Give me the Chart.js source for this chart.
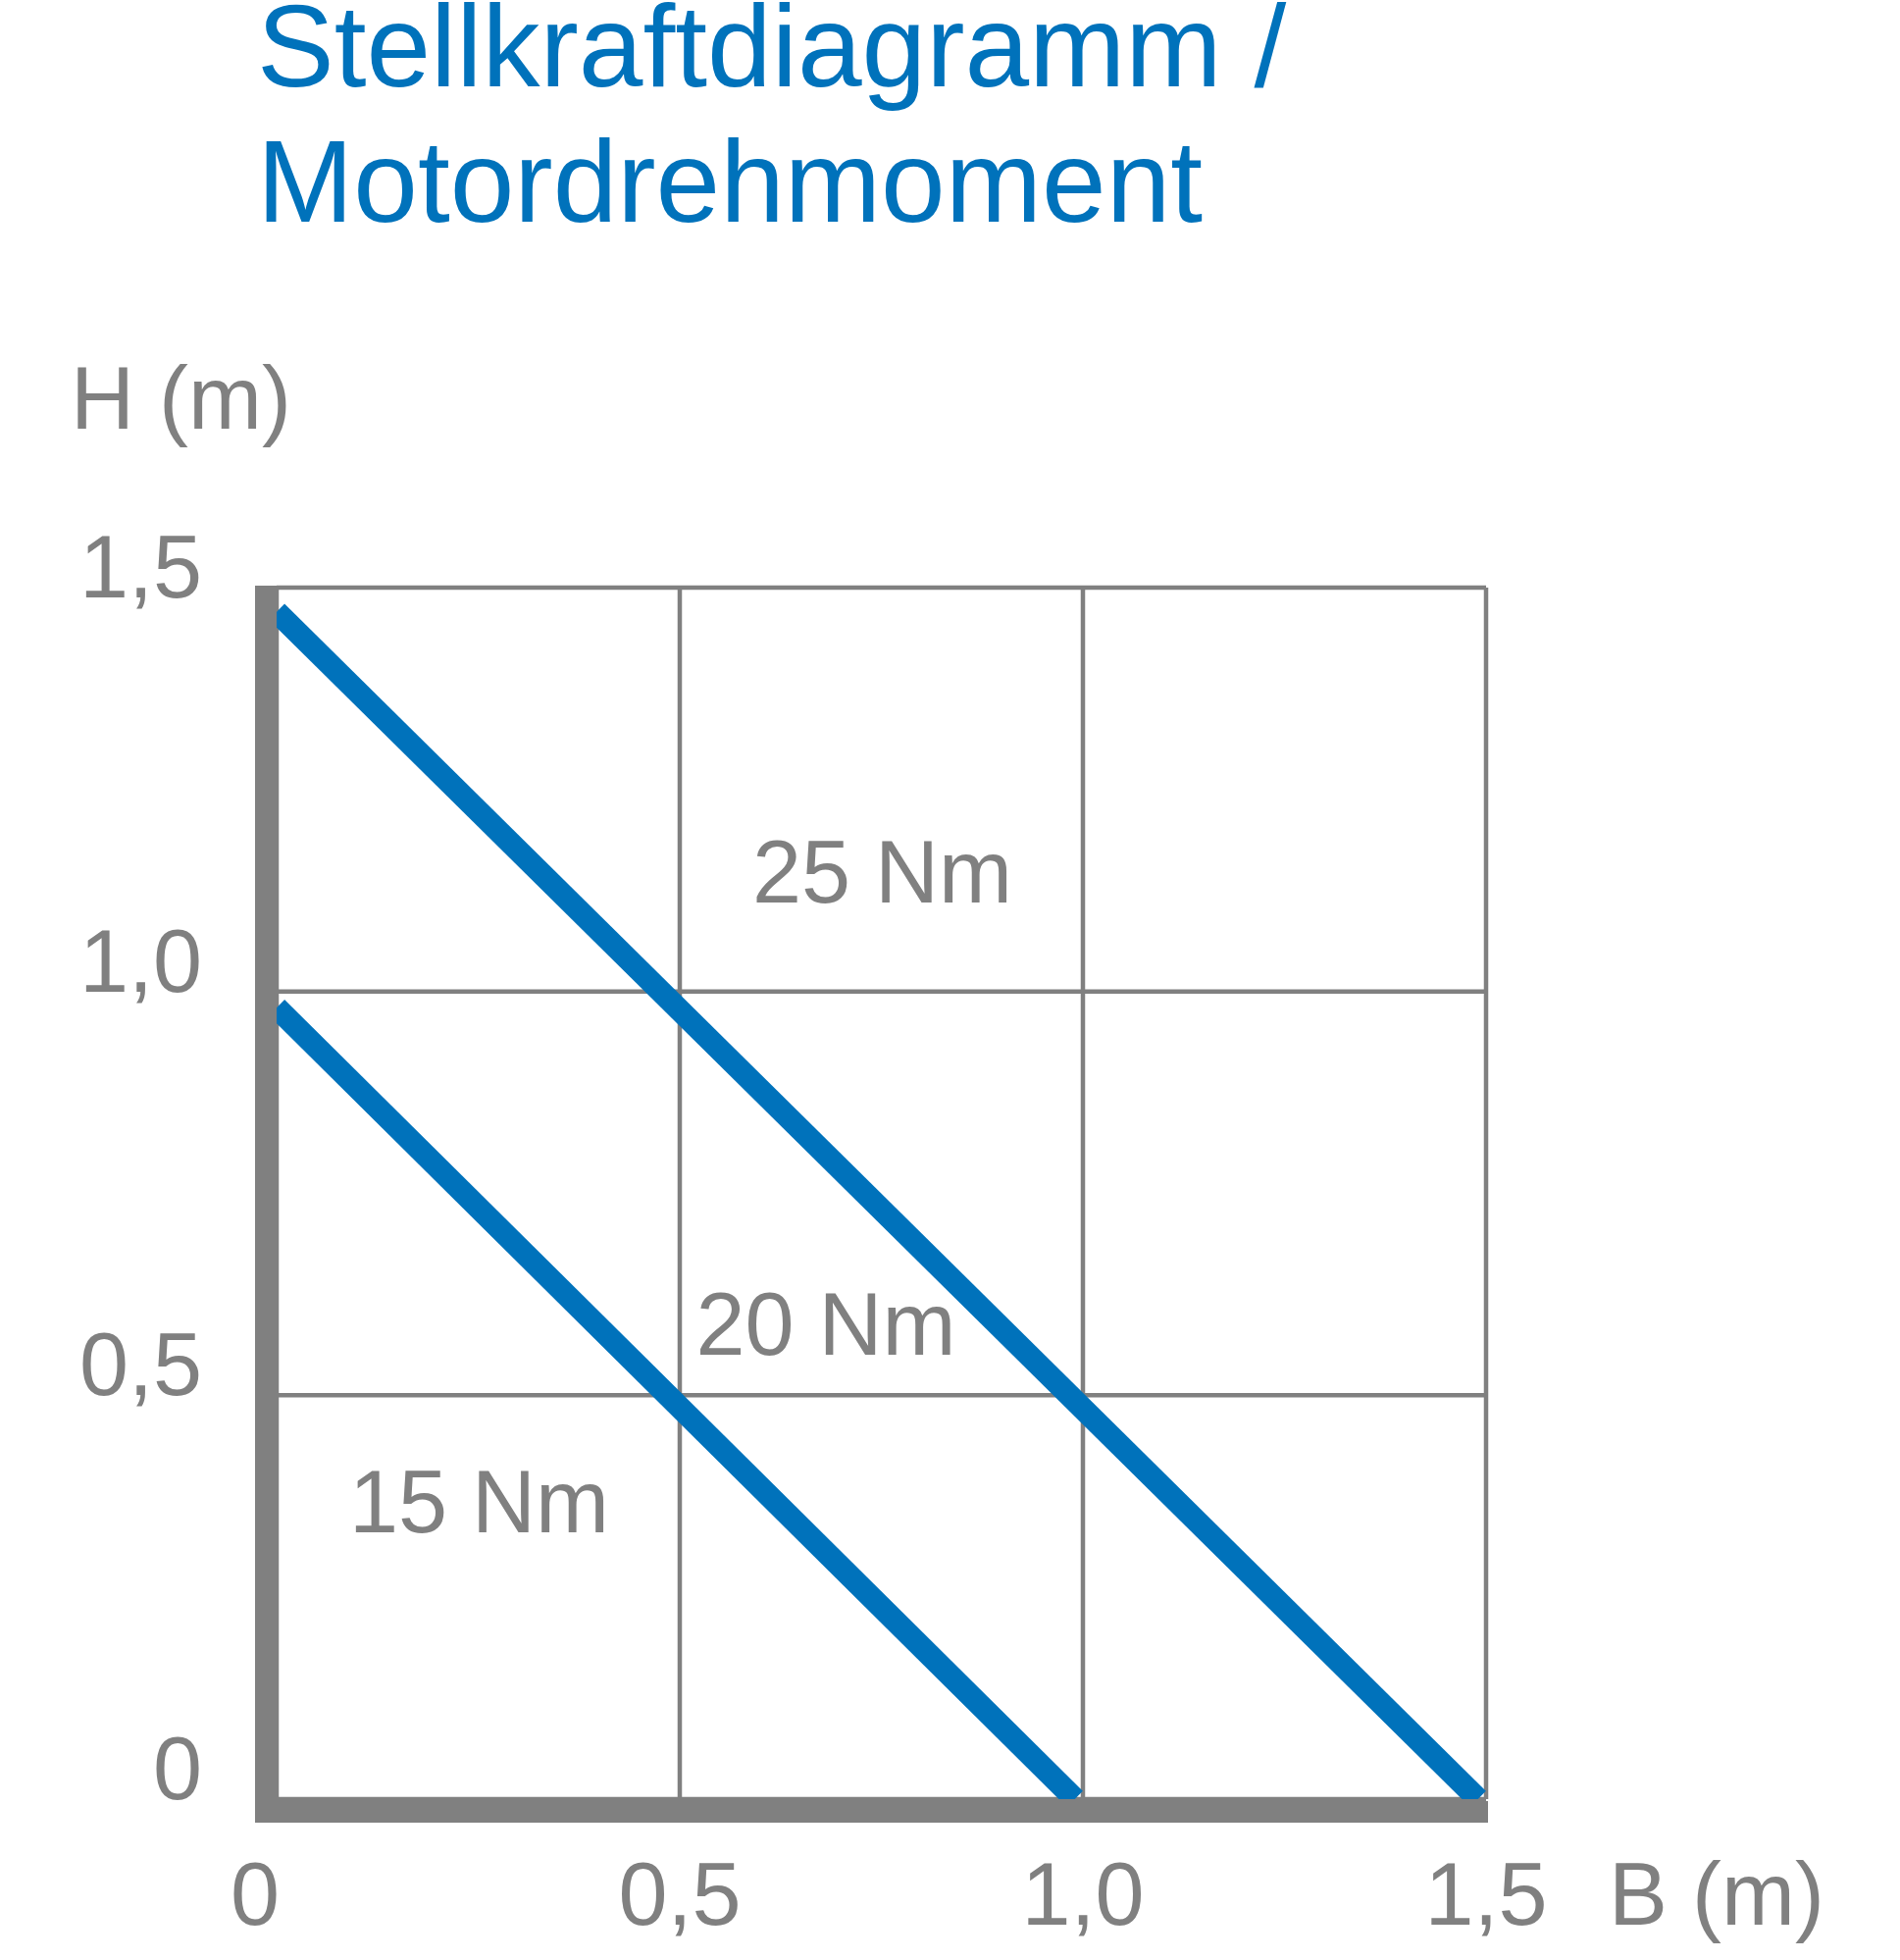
<!DOCTYPE html>
<html><head><meta charset="utf-8">
<script src="https://cdn.jsdelivr.net/npm/chart.js@4"></script>
<style>html,body{margin:0;padding:0;background:#fff}</style>
</head><body>
<canvas id="c" width="1937" height="1998"></canvas>
<script>
const titleLines = ["Stellkraftdiagramm /", "Motordrehmoment"];
const tickValues = [0, 0.5, 1.0, 1.5];
const tickLabels = ["0", "0,5", "1,0", "1,5"];
const line15 = [{x:0, y:0.98}, {x:0.99, y:0}];
const line25 = [{x:0, y:1.47}, {x:1.49, y:0}];
const labels = [
  {text:"25 Nm", x:0.59, y:1.11},
  {text:"20 Nm", x:0.52, y:0.55},
  {text:"15 Nm", x:0.09, y:0.33}
];
const GRAY = "#808080", BLUE = "#0072bb";
const F = '"Liberation Sans", Arial, sans-serif';

const deco = {
  id:'deco',
  beforeDatasetsDraw(ch){
    const c = ch.ctx, xs = ch.scales.x, ys = ch.scales.y;
    const L = xs.getPixelForValue(0), R = xs.getPixelForValue(1.5);
    const T = ys.getPixelForValue(1.5), B = ys.getPixelForValue(0);
    c.save();
    c.strokeStyle = GRAY; c.lineWidth = 4.5;
    tickValues.forEach(v => {
      const px = xs.getPixelForValue(v), py = ys.getPixelForValue(v);
      c.beginPath(); c.moveTo(px, T); c.lineTo(px, B); c.stroke();
      c.beginPath(); c.moveTo(L, py); c.lineTo(R, py); c.stroke();
    });
    c.fillStyle = GRAY;
    c.fillRect(L - 22, T - 2, 22, B - T + 24);
    c.fillRect(L - 22, B + 2, R - L + 24, 22);
    c.restore();
  },
  afterDraw(ch){
    const c = ch.ctx, xs = ch.scales.x, ys = ch.scales.y;
    c.save();
    c.fillStyle = BLUE;
    c.font = '118px ' + F;
    c.textBaseline = 'alphabetic';
    c.fillText(titleLines[0], 262, 88);
    c.fillText(titleLines[1], 262, 226);
    c.fillStyle = GRAY;
    c.font = '90px ' + F;
    c.fillText("H (m)", 72, 437);
    c.fillText("B (m)", 1640, 1962);
    c.textAlign = 'right';
    tickValues.forEach((v,i) => {
      c.fillText(tickLabels[i], 206, ys.getPixelForValue(v) + (i===3 ? 10 : 0));
    });
    c.textAlign = 'center';
    tickValues.forEach((v,i) => {
      c.fillText(tickLabels[i], xs.getPixelForValue(v) - (i===0?22:0), 1962);
    });
    c.textAlign = 'left';
    labels.forEach(l => c.fillText(l.text, xs.getPixelForValue(l.x), ys.getPixelForValue(l.y)));
    c.restore();
  }
};

new Chart(document.getElementById('c'), {
  type:'scatter',
  data:{datasets:[
    {data:line15, showLine:true, borderColor:BLUE, borderWidth:23, pointRadius:0, borderCapStyle:'butt'},
    {data:line25, showLine:true, borderColor:BLUE, borderWidth:23, pointRadius:0, borderCapStyle:'butt'}
  ]},
  options:{
    responsive:false, animation:false, devicePixelRatio:1,
    layout:{padding:{left:282, right:422, top:599, bottom:164}},
    plugins:{legend:{display:false}, tooltip:{enabled:false}},
    scales:{
      x:{type:'linear', min:0, max:1.5, display:false},
      y:{type:'linear', min:0, max:1.5, display:false}
    }
  },
  plugins:[deco]
});
</script>
</body></html>
